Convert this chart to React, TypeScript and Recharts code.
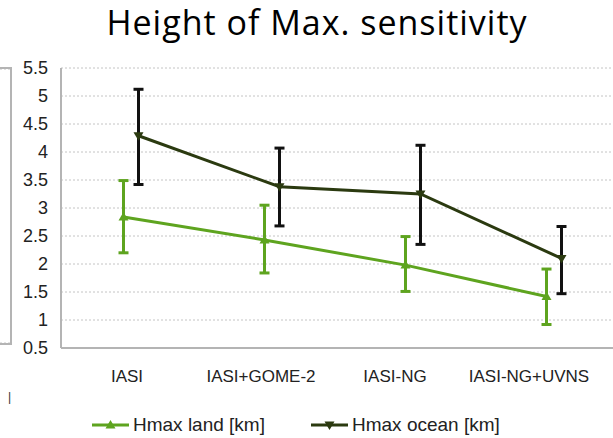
import React from 'react';
import { LineChart, Line, XAxis, YAxis, CartesianGrid, ErrorBar, Legend } from 'recharts';

const categories = ['IASI', 'IASI+GOME-2', 'IASI-NG', 'IASI-NG+UVNS'];
const landValues = [2.84, 2.43, 1.98, 1.42];
const landLow = [2.2, 1.84, 1.51, 0.92];
const landHigh = [3.49, 3.05, 2.49, 1.91];
const oceanValues = [4.29, 3.38, 3.25, 2.1];
const oceanLow = [3.42, 2.68, 2.35, 1.47];
const oceanHigh = [5.12, 4.07, 4.12, 2.67];
const yTicks = [0.5, 1, 1.5, 2, 2.5, 3, 3.5, 4, 4.5, 5, 5.5];
const sideTicks = [0, 1, 2, 3, 4, 5, 6, 7, 8, 9, 10];

const LAND = '#5ea41f';
const OCEAN = '#2b3a10';
const OCEAN_ERR = '#111111';
const BORDER = '#b4b4b4';

const data = categories.map((cat, i) => ({
  cat,
  land: landValues[i],
  landErr: [landValues[i] - landLow[i], landHigh[i] - landValues[i]],
  ocean: oceanValues[i],
  oceanErr: [oceanValues[i] - oceanLow[i], oceanHigh[i] - oceanValues[i]],
}));

const sideData = [{ v: 0 }, { v: 10 }];

const UpTri = (props: any) => {
  const { cx, cy, fill } = props;
  if (cx == null || cy == null) return null;
  return <path d={`M${cx - 5},${cy + 3.5} L${cx + 5},${cy + 3.5} L${cx},${cy - 5} Z`} fill={fill} />;
};
const DownTri = (props: any) => {
  const { cx, cy, fill } = props;
  if (cx == null || cy == null) return null;
  return <path d={`M${cx - 5},${cy - 3.5} L${cx + 5},${cy - 3.5} L${cx},${cy + 5} Z`} fill={fill} />;
};

const LegendContent = () => {
  const items = [
    { label: 'Hmax land [km]', color: LAND, up: true },
    { label: 'Hmax ocean [km]', color: OCEAN, up: false },
  ];
  return (
    <div style={{ display: 'flex', alignItems: 'center', paddingLeft: 92, fontFamily: 'Liberation Sans, Arial, sans-serif', fontSize: 19, color: '#222' }}>
      {items.map((it, i) => (
        <div key={it.label} style={{ display: 'flex', alignItems: 'center', marginRight: i === 0 ? 46 : 0 }}>
          <svg width={37} height={14} style={{ marginRight: 4 }}>
            <line x1={0} y1={7} x2={37} y2={7} stroke={it.color} strokeWidth={3} />
            {it.up ? (
              <path d="M13.5,10.5 L23.5,10.5 L18.5,2 Z" fill={it.color} />
            ) : (
              <path d="M13.5,3.5 L23.5,3.5 L18.5,12 Z" fill={it.color} />
            )}
          </svg>
          <span>{it.label}</span>
        </div>
      ))}
    </div>
  );
};

export default function App() {
  return (
    <div style={{ position: 'absolute', left: 0, top: 0, width: 613, height: 438, overflow: 'hidden', background: '#fff' }}>
      <div style={{ position: 'absolute', left: 0, top: 2, width: 634, textAlign: 'center', fontFamily: 'Open Sans, sans-serif', fontSize: 34, letterSpacing: 1, color: '#000', lineHeight: '40px' }}>
        Height of Max. sensitivity
      </div>
      <div style={{ position: 'absolute', left: 0, top: 67, width: 10, height: 274, borderTop: `2px solid ${BORDER}`, borderRight: `2px solid ${BORDER}`, borderBottom: `2px solid ${BORDER}` }}>
        <LineChart width={10} height={274} data={sideData} margin={{ top: 0, right: 0, bottom: 0, left: 0 }}>
          <YAxis hide domain={[0, 10]} ticks={sideTicks} type="number" />
          <CartesianGrid vertical={false} stroke="#c4c4c4" strokeDasharray="2 2" />
        </LineChart>
      </div>
      <div style={{ position: 'absolute', left: 8, top: 390, fontFamily: 'Liberation Sans, sans-serif', fontSize: 12, color: '#333' }}>|</div>
      <div style={{ position: 'absolute', left: 0, top: 0 }}>
        <LineChart width={640} height={438} data={data} margin={{ top: 68, right: 15, bottom: 50, left: 0 }}>
          <CartesianGrid vertical={false} stroke="#c4c4c4" strokeDasharray="2 2" />
          <XAxis xAxisId="land" dataKey="cat" scale="band" hide padding={{ left: -8, right: 8 }} />
          <XAxis xAxisId="ocean" dataKey="cat" scale="band" hide padding={{ left: 7, right: -7 }} />
          <XAxis
            xAxisId="label"
            dataKey="cat"
            scale="band"
            padding={{ left: -1, right: 29 }}
            height={40}
            tickLine={false}
            tickSize={0}
            tickMargin={22}
            axisLine={{ stroke: BORDER, strokeWidth: 2 }}
            tick={{ fontFamily: 'Liberation Sans, Arial, sans-serif', fontSize: 17, fill: '#222' }}
            interval={0}
          />
          <XAxis xAxisId="top" orientation="top" dataKey="cat" height={0} tick={false} tickLine={false} axisLine={{ stroke: BORDER, strokeWidth: 2 }} />
          <YAxis
            type="number"
            domain={[0.5, 5.5]}
            ticks={yTicks}
            width={61}
            tickLine={false}
            tickSize={0}
            tickMargin={13}
            axisLine={{ stroke: BORDER, strokeWidth: 2 }}
            tick={{ fontFamily: 'Liberation Sans, Arial, sans-serif', fontSize: 18, fill: '#222' }}
            interval={0}
          />
          <Line xAxisId="land" dataKey="land" name="Hmax land [km]" stroke={LAND} strokeWidth={3} fill={LAND} dot={<UpTri />} activeDot={false} isAnimationActive={false}>
            <ErrorBar dataKey="landErr" width={5} stroke={LAND} strokeWidth={3} direction="y" isAnimationActive={false} />
          </Line>
          <Line xAxisId="ocean" dataKey="ocean" name="Hmax ocean [km]" stroke={OCEAN} strokeWidth={3} fill={OCEAN} dot={<DownTri />} activeDot={false} isAnimationActive={false}>
            <ErrorBar dataKey="oceanErr" width={5} stroke={OCEAN_ERR} strokeWidth={3} direction="y" isAnimationActive={false} />
          </Line>
          <Legend layout="horizontal" verticalAlign="middle" align="center" content={<LegendContent />} wrapperStyle={{ top: 414, left: 0, width: 613 }} />
        </LineChart>
      </div>
    </div>
  );
}
